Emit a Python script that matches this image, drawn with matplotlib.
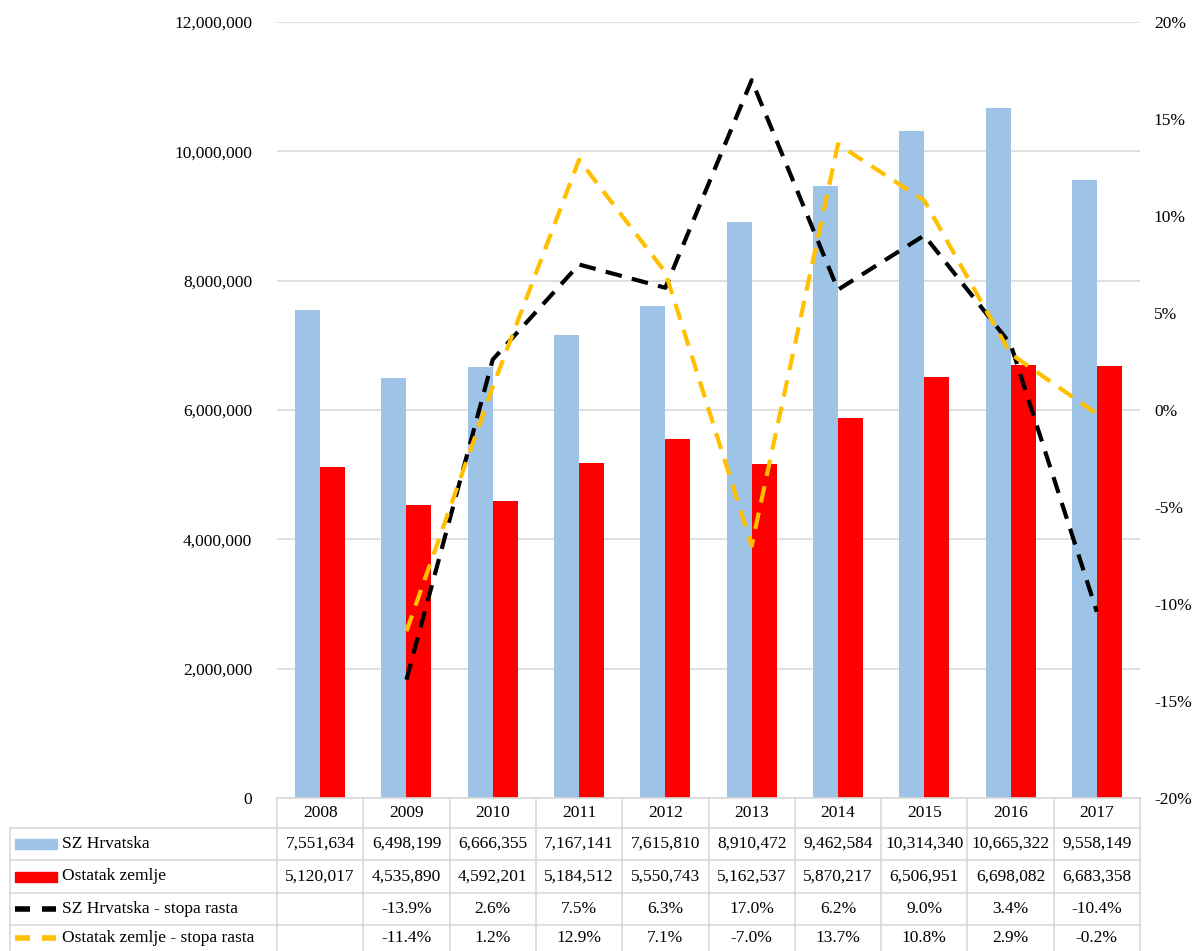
import matplotlib
matplotlib.use("Agg")
from matplotlib import pyplot as plt
from matplotlib import patches as patches
from matplotlib.lines import Line2D
from matplotlib.ticker import FuncFormatter

plt.rcParams['font.family'] = ['Liberation Serif', 'DejaVu Serif']
plt.rcParams['axes.unicode_minus'] = False

years = ['2008', '2009', '2010', '2011', '2012', '2013', '2014', '2015', '2016', '2017']
sz_hrvatska = [7551634, 6498199, 6666355, 7167141, 7615810, 8910472, 9462584, 10314340, 10665322, 9558149]
ostatak = [5120017, 4535890, 4592201, 5184512, 5550743, 5162537, 5870217, 6506951, 6698082, 6683358]
# growth rates in %, first year has none
sz_rate = [None, -13.9, 2.6, 7.5, 6.3, 17.0, 6.2, 9.0, 3.4, -10.4]
ost_rate = [None, -11.4, 1.2, 12.9, 7.1, -7.0, 13.7, 10.8, 2.9, -0.2]

row_names = ['SZ Hrvatska', 'Ostatak zemlje', 'SZ Hrvatska - stopa rasta', 'Ostatak zemlje - stopa rasta']

blue = '#9DC3E6'
red = '#FF0000'
gold = '#FFC000'
grid_c = '#D9D9D9'
fs = 12.5

W, H = 1192, 951
fig = plt.figure(figsize=(W / 100, H / 100), dpi=100)

ax_l, ax_r, ax_t, ax_b = 277, 1140, 22, 798
ax = fig.add_axes([ax_l / W, 1 - ax_b / H, (ax_r - ax_l) / W, (ax_b - ax_t) / H])

n = len(years)
x = list(range(n))
bw = 0.29
ax.bar([i - bw / 2 for i in x], sz_hrvatska, width=bw, color=blue, zorder=2)
ax.bar([i + bw / 2 for i in x], ostatak, width=bw, color=red, zorder=2)
ax.set_xlim(-0.5, n - 0.5)
ax.set_ylim(0, 12000000)
ax.set_yticks(range(0, 12000001, 2000000))
ax.yaxis.set_major_formatter(FuncFormatter(lambda v, p: f"{int(v):,}"))
ax.grid(axis='y', color=grid_c, lw=1.2, zorder=0)
ax.set_axisbelow(True)
ax.set_xticks([])
ax.tick_params(axis='y', length=0, pad=18, labelsize=fs)
for s in ax.spines.values():
    s.set_visible(False)

ax2 = ax.twinx()
xs = [i for i in x if sz_rate[i] is not None]
ax2.plot(xs, [sz_rate[i] for i in xs], color='black', lw=3, ls=(0, (4, 2.5)), zorder=3)
ax2.plot(xs, [ost_rate[i] for i in xs], color=gold, lw=3, ls=(0, (4, 2.5)), zorder=3)
ax2.set_ylim(-20, 20)
ax2.set_yticks(range(-20, 21, 5))
ax2.yaxis.set_major_formatter(FuncFormatter(lambda v, p: f"{int(v)}%"))
ax2.tick_params(axis='y', length=0, pad=10, labelsize=fs)
for s in ax2.spines.values():
    s.set_visible(False)

# data table below the plot, drawn in pixel coordinates
def fx(px):
    return px / W

def fy(py):
    return 1 - py / H

col_w = (ax_r - ax_l) / n
row_y = [798, 828, 860, 893, 925, 958]
tab_left = 10
line_kw = dict(color=grid_c, lw=1.2, transform=fig.transFigure)

# header row (years)
fig.add_artist(Line2D([fx(ax_l), fx(ax_r)], [fy(row_y[0])] * 2, **line_kw))
for i in range(n + 1):
    xp = ax_l + i * col_w
    fig.add_artist(Line2D([fx(xp)] * 2, [fy(row_y[0]), fy(row_y[-1])], **line_kw))
for j in range(1, len(row_y)):
    fig.add_artist(Line2D([fx(tab_left), fx(ax_r)], [fy(row_y[j])] * 2, **line_kw))
fig.add_artist(Line2D([fx(tab_left)] * 2, [fy(row_y[1]), fy(row_y[-1])], **line_kw))

for i, yr in enumerate(years):
    fig.text(fx(ax_l + (i + 0.5) * col_w), fy((row_y[0] + row_y[1]) / 2), yr,
             ha='center', va='center', fontsize=fs)

rows = [
    [f"{v:,}" for v in sz_hrvatska],
    [f"{v:,}" for v in ostatak],
    ["" if v is None else f"{v:.1f}%" for v in sz_rate],
    ["" if v is None else f"{v:.1f}%" for v in ost_rate],
]
for j, vals in enumerate(rows):
    yc = fy((row_y[j + 1] + min(row_y[j + 2], 951)) / 2)
    for i, t in enumerate(vals):
        fig.text(fx(ax_l + (i + 0.5) * col_w), yc, t, ha='center', va='center', fontsize=fs)
    fig.text(fx(62), yc, row_names[j], ha='left', va='center', fontsize=fs)

# legend swatches in the row label cells
for j, c in enumerate([blue, red]):
    yc = (row_y[j + 1] + row_y[j + 2]) / 2
    fig.add_artist(patches.Rectangle((fx(15), fy(yc + 5)), fx(57) - fx(15), 10 / H,
                                     color=c, transform=fig.transFigure))
for j, c in enumerate(['black', gold]):
    yc = (row_y[j + 3] + min(row_y[j + 4], 951)) / 2
    for x0, x1 in [(15, 30), (42, 56)]:
        fig.add_artist(Line2D([fx(x0), fx(x1)], [fy(yc)] * 2, color=c, lw=4,
                              solid_capstyle='butt', transform=fig.transFigure))

fig.savefig("out.png", dpi=100)
